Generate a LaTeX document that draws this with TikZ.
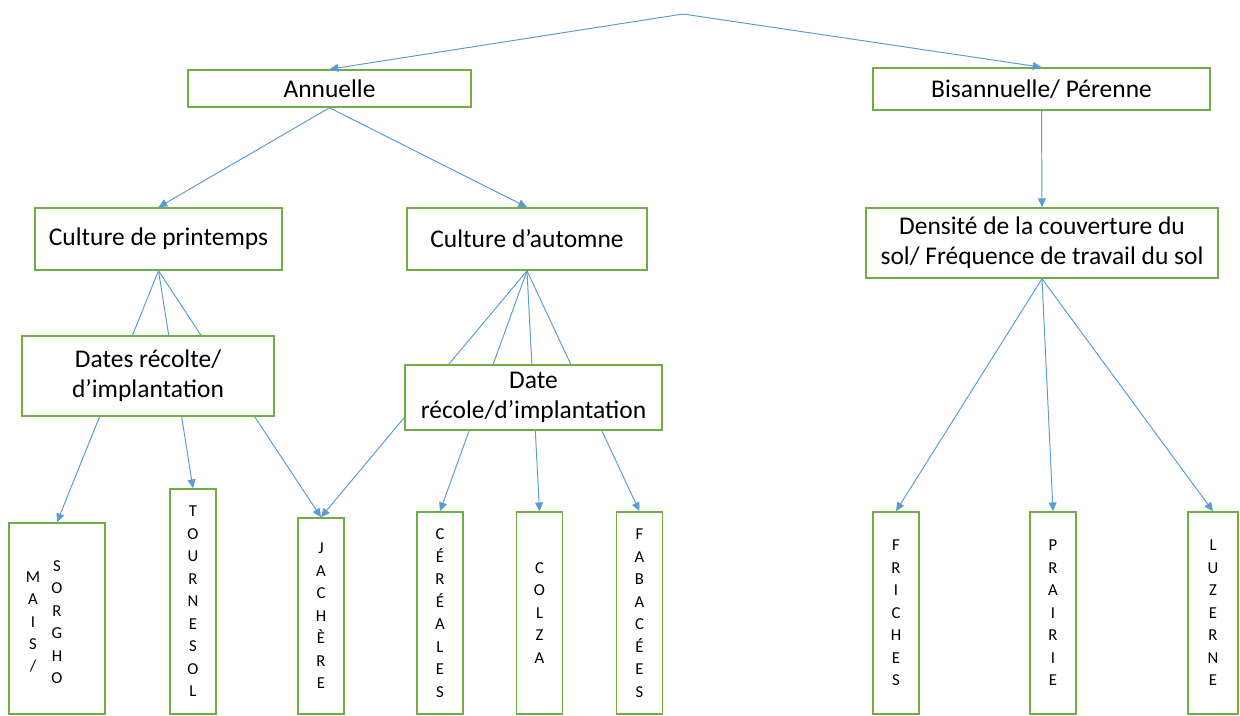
\documentclass[tikz,border=0pt]{standalone}
\usepackage{fontspec}
\setmainfont{Carlito}
\usetikzlibrary{arrows.meta}
\definecolor{vert}{HTML}{70AD47}
\definecolor{bleu}{HTML}{5B9BD5}
\tikzset{
  boite/.style={draw=vert, line width=0.9pt, fill=white, align=center, inner sep=0pt,
    font=\fontsize{14.5}{17}\selectfont},
  taille/.style 2 args={minimum width=#1*0.02cm, minimum height=#2*0.02cm},
  lettres/.style={boite, font=\fontsize{9.5}{12.8}\selectfont},
  fleche/.style={draw=bleu, line width=0.55pt, -{Triangle[length=5pt,width=4.5pt]}},
}
\begin{document}
\begin{tikzpicture}[x=0.02cm, y=-0.02cm]
  \useasboundingbox (0,0) rectangle (1240,716);
  % niveau 1
  \coordinate (racine) at (683,14);
  \node[boite, taille={283}{37}] (annuelle) at (329.5,88.5) {Annuelle};
  \node[boite, taille={337}{42}] (bisannuelle) at (1041.5,89) {Bisannuelle/ Pérenne};
  % niveau 2
  \node[boite, taille={247}{62}] (printemps) at (158.5,239) {Culture de printemps};
  \node[boite, taille={240}{62}] (automne) at (527,239) {Culture d’automne};
  \node[boite, taille={352}{70}] (densite) at (1042,243) {Densité de la couverture du\\sol/ Fréquence de travail du sol};
  % cultures
  \node[boite, taille={96}{191}] (mais) at (57,618.5) {};
  \node[font=\fontsize{9.5}{12.8}\selectfont, align=center, inner sep=0pt] (maislbl) at (33,622) {M\\A\\I\\S\\/};
  \node[font=\fontsize{9.5}{12.8}\selectfont, align=center, inner sep=0pt] (sorgholbl) at (57,622) {S\\O\\R\\G\\H\\O};
  \node[lettres, taille={46}{225}] (tournesol) at (193,601.5) {T\\O\\U\\R\\N\\E\\S\\O\\L};
  \node[lettres, taille={46}{196}] (jachere) at (321,616) {J\\A\\C\\H\\È\\R\\E};
  \node[lettres, taille={46}{202}] (cereales) at (440,613) {C\\É\\R\\É\\A\\L\\E\\S};
  \node[lettres, taille={46}{202}] (colza) at (539.5,613) {C\\O\\L\\Z\\A};
  \node[lettres, taille={46}{202}] (fabacees) at (639.5,613) {F\\A\\B\\A\\C\\É\\E\\S};
  \node[lettres, taille={46}{202}] (friches) at (896,613) {F\\R\\I\\C\\H\\E\\S};
  \node[lettres, taille={46}{202}] (prairie) at (1053,613) {P\\R\\A\\I\\R\\I\\E};
  \node[lettres, taille={50}{202}] (luzerne) at (1213,613) {L\\U\\Z\\E\\R\\N\\E};
  % liaisons
  \draw[fleche] (racine) -- (annuelle.north);
  \draw[fleche] (racine) -- (bisannuelle.north);
  \draw[fleche] (annuelle.south) -- (printemps.north);
  \draw[fleche] (annuelle.south) -- (automne.north);
  \draw[fleche] (bisannuelle.south) -- (densite.north);
  \foreach \c in {mais,tournesol,jachere}
    \draw[fleche] (printemps.south) -- (\c.north);
  \foreach \c in {jachere,cereales,colza,fabacees}
    \draw[fleche] (automne.south) -- (\c.north);
  \foreach \c in {friches,prairie,luzerne}
    \draw[fleche] (densite.south) -- (\c.north);
  % dates, par-dessus les traits
  \node[boite, taille={252}{80}] (dates1) at (148,376) {Dates récolte/\\d’implantation};
  \node[boite, taille={257}{65}] (dates2) at (533.5,397.5) {Date\\récole/d’implantation};
\end{tikzpicture}
\end{document}
